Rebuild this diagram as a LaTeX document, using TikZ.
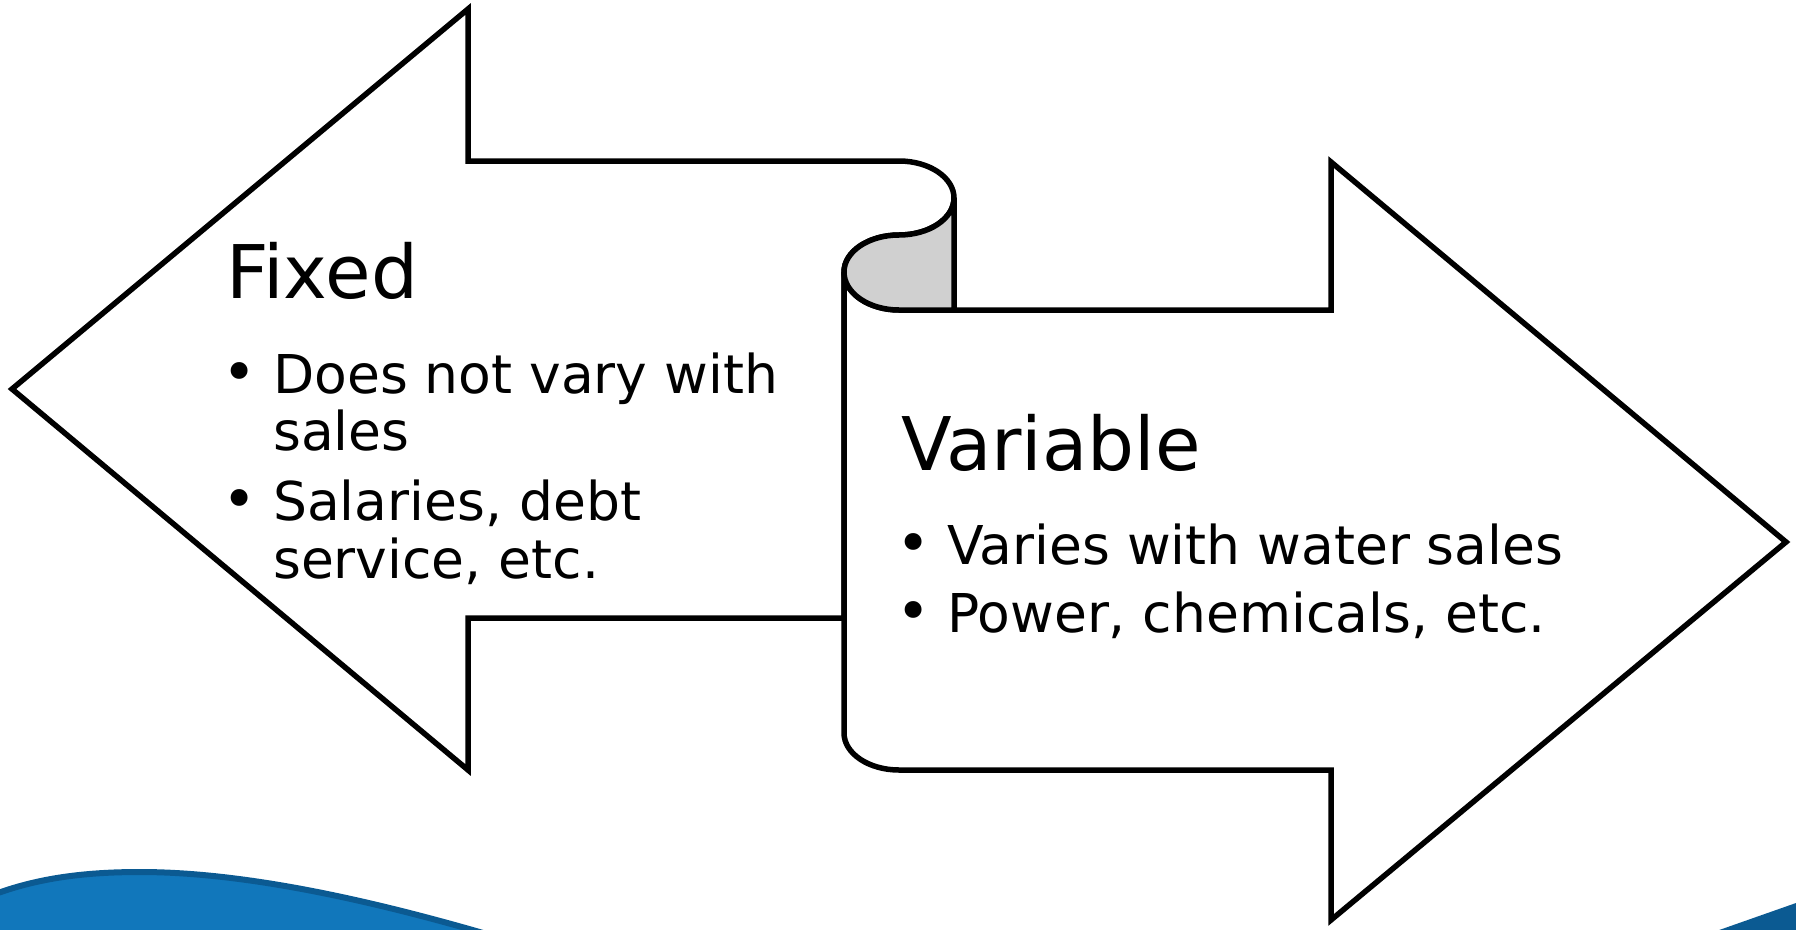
\documentclass[tikz,border=0pt]{standalone}
\usepackage{fontspec}
\setmainfont{DejaVu Sans}
\definecolor{wavefill}{HTML}{1177BB}
\definecolor{waveedge}{HTML}{0B5A92}
\definecolor{rollgray}{HTML}{D0D0D0}
\newcommand{\bulbox}[1]{\makebox[#1][l]{\raisebox{1pt}{\fontsize{58}{58}\selectfont\textbullet}}}
\tikzset{
  outline/.style={draw=black, line width=5.5pt, fill=white},
  rollpart/.style={draw=black, line width=5.5pt, fill=rollgray},
  titletext/.style={anchor=base west, inner sep=0pt, font=\fontsize{74}{74}\selectfont},
  listtext/.style={anchor=base west, inner sep=0pt, align=left, font=\fontsize{53.5}{57}\selectfont},
}
\begin{document}
\begin{tikzpicture}[x=1pt, y=-1pt]
\useasboundingbox (0,0) rectangle (1796,929);
% bottom waves
\begin{scope}
\clip (0,0) rectangle (1796,929);
\fill[wavefill] (0,935) -- (0,892) .. controls (40,878) and (85,872) .. (140,872)
   .. controls (250,872) and (380,903) .. (490,935) -- cycle;
\draw[waveedge, line width=6pt] (-2,893) .. controls (40,878) and (85,872) .. (140,872)
   .. controls (250,872) and (380,903) .. (490,935);
\fill[waveedge] (1705,935) -- (1796,903) -- (1800,935) -- cycle;
\end{scope}
% left scroll arrow
\draw[outline] (468,161) -- (899,161)
  arc[start angle=270, end angle=360, x radius=55, y radius=37]
  arc[start angle=0, end angle=90, x radius=55, y radius=37]
  arc[start angle=270, end angle=180, x radius=55, y radius=37]
  -- (844,618) -- (468,618) -- (468,770) -- (12,389) -- (468,9) -- cycle;
% right scroll arrow
\draw[outline] (844,272)
  arc[start angle=180, end angle=90, x radius=55, y radius=38]
  -- (1331,310) -- (1331,162) -- (1786,542) -- (1331,920) -- (1331,770) -- (899,770)
  arc[start angle=90, end angle=180, x radius=55, y radius=37]
  -- cycle;
% rolled part
\draw[rollpart] (954,198)
  arc[start angle=0, end angle=90, x radius=55, y radius=37]
  arc[start angle=270, end angle=180, x radius=55, y radius=37]
  arc[start angle=180, end angle=90, x radius=55, y radius=38]
  -- (954,310) -- cycle;
% texts
\node[titletext] (fixedtitle) at (226,298) {Fixed};
\node[listtext] (fixedlist) at (222,393) {\begin{tabular}[t]{@{}l@{}l@{}}
\bulbox{51pt} & Does not vary with\\
 & sales\\[12pt]
\bulbox{51pt} & Salaries, debt\\
 & service, etc.
\end{tabular}};
\node[titletext] (vartitle) at (901,470) {Variable};
\node[listtext] (varlist) at (896,564) {\begin{tabular}[t]{@{}l@{}l@{}}
\bulbox{51pt} & Varies with water sales\\[11pt]
\bulbox{51pt} & Power, chemicals, etc.
\end{tabular}};
\end{tikzpicture}
\end{document}
